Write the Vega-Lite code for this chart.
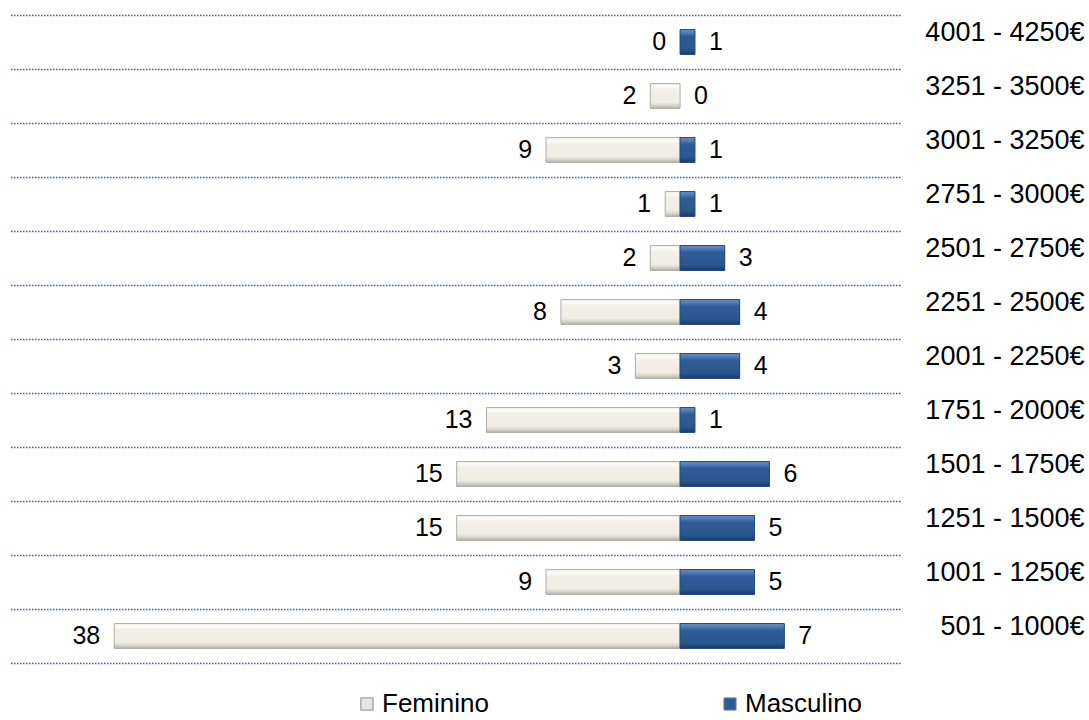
{
  "$schema": "https://vega.github.io/schema/vega-lite/v6.json",
  "width": 890,
  "height": 648,
  "autosize": {"type": "none"},
  "padding": {"left": 10, "top": 15, "right": 189, "bottom": 57},
  "background": "white",
  "config": {
    "view": {"stroke": null},
    "font": "Liberation Sans",
    "text": {"font": "Liberation Sans"}
  },
  "data": {
    "values": [
      {"band": "4001 - 4250€", "sexo": "Feminino", "n": 0},
      {"band": "4001 - 4250€", "sexo": "Masculino", "n": 1},
      {"band": "3251 - 3500€", "sexo": "Feminino", "n": 2},
      {"band": "3251 - 3500€", "sexo": "Masculino", "n": 0},
      {"band": "3001 - 3250€", "sexo": "Feminino", "n": 9},
      {"band": "3001 - 3250€", "sexo": "Masculino", "n": 1},
      {"band": "2751 - 3000€", "sexo": "Feminino", "n": 1},
      {"band": "2751 - 3000€", "sexo": "Masculino", "n": 1},
      {"band": "2501 - 2750€", "sexo": "Feminino", "n": 2},
      {"band": "2501 - 2750€", "sexo": "Masculino", "n": 3},
      {"band": "2251 - 2500€", "sexo": "Feminino", "n": 8},
      {"band": "2251 - 2500€", "sexo": "Masculino", "n": 4},
      {"band": "2001 - 2250€", "sexo": "Feminino", "n": 3},
      {"band": "2001 - 2250€", "sexo": "Masculino", "n": 4},
      {"band": "1751 - 2000€", "sexo": "Feminino", "n": 13},
      {"band": "1751 - 2000€", "sexo": "Masculino", "n": 1},
      {"band": "1501 - 1750€", "sexo": "Feminino", "n": 15},
      {"band": "1501 - 1750€", "sexo": "Masculino", "n": 6},
      {"band": "1251 - 1500€", "sexo": "Feminino", "n": 15},
      {"band": "1251 - 1500€", "sexo": "Masculino", "n": 5},
      {"band": "1001 - 1250€", "sexo": "Feminino", "n": 9},
      {"band": "1001 - 1250€", "sexo": "Masculino", "n": 5},
      {"band": "501 - 1000€", "sexo": "Feminino", "n": 38},
      {"band": "501 - 1000€", "sexo": "Masculino", "n": 7}
    ]
  },
  "transform": [
    {"calculate": "datum.sexo === 'Feminino' ? -datum.n : datum.n", "as": "signed"}
  ],
  "encoding": {
    "y": {
      "field": "band",
      "type": "nominal",
      "sort": null,
      "scale": {"paddingInner": 0, "paddingOuter": 0},
      "axis": {
        "orient": "right",
        "title": null,
        "domain": false,
        "ticks": false,
        "tickSize": 0,
        "tickBand": "extent",
        "grid": true,
        "gridColor": "#34609f",
        "gridDash": [1.5, 1.5],
        "gridWidth": 1.5,
        "labelAlign": "right",
        "labelBaseline": "middle",
        "labelPadding": 184,
        "labelOffset": -10,
        "labelFontSize": 27,
        "labelColor": "#000000",
        "labelFont": "Liberation Sans"
      }
    }
  },
  "layer": [
    {
      "transform": [{"filter": "datum.n > 0"}],
      "mark": {"type": "bar", "height": {"band": 0.46}},
      "encoding": {
        "x": {
          "field": "signed",
          "type": "quantitative",
          "scale": {"domain": [-45, 14.77], "nice": false, "zero": false},
          "axis": null
        },
        "x2": {"datum": 0},
        "color": {
          "field": "sexo",
          "type": "nominal",
          "scale": {"domain": ["Feminino", "Masculino"], "range": ["#e6e4dc", "#2c5a95"]},
          "legend": {
            "title": null,
            "orient": "none",
            "direction": "horizontal",
            "legendX": 344,
            "legendY": 676,
            "symbolType": "square",
            "symbolSize": 150,
            "symbolStrokeColor": "#8c8c8c",
            "symbolStrokeWidth": 1,
            "symbolOpacity": 1,
            "labelFontSize": 26,
            "labelFont": "Liberation Sans",
            "labelColor": "#000000",
            "labelOffset": 2,
            "columnPadding": 228,
            "padding": 0
          }
        }
      }
    },
    {
      "transform": [{"filter": "datum.n > 0"}],
      "mark": {"type": "bar", "height": {"band": 0.46}, "strokeWidth": 1},
      "encoding": {
        "x": {"field": "signed", "type": "quantitative"},
        "x2": {"datum": 0},
        "fill": {
          "condition": {
            "test": "datum.sexo === 'Feminino'",
            "value": {
              "gradient": "linear", "x1": 0, "y1": 0, "x2": 0, "y2": 1,
              "stops": [
                {"offset": 0, "color": "#f6f5ef"},
                {"offset": 0.14, "color": "#fcfbf7"},
                {"offset": 0.22, "color": "#f2f0e8"},
                {"offset": 0.76, "color": "#eeece3"},
                {"offset": 0.88, "color": "#d6d4cb"},
                {"offset": 1, "color": "#b3b1a9"}
              ]
            }
          },
          "value": {
            "gradient": "linear", "x1": 0, "y1": 0, "x2": 0, "y2": 1,
            "stops": [
              {"offset": 0, "color": "#6a92c8"},
              {"offset": 0.16, "color": "#4876b2"},
              {"offset": 0.26, "color": "#2f5d9a"},
              {"offset": 0.78, "color": "#2b578f"},
              {"offset": 0.9, "color": "#22487a"},
              {"offset": 1, "color": "#1a3961"}
            ]
          }
        },
        "stroke": {
          "condition": {"test": "datum.sexo === 'Feminino'", "value": "#aeaca4"},
          "value": "#24497a"
        }
      }
    },
    {
      "transform": [{"filter": "datum.sexo === 'Feminino'"}],
      "mark": {"type": "text", "align": "right", "baseline": "middle", "dx": -14, "fontSize": 25, "font": "Liberation Sans", "color": "#000000"},
      "encoding": {
        "x": {"field": "signed", "type": "quantitative"},
        "text": {"field": "n", "type": "quantitative"}
      }
    },
    {
      "transform": [{"filter": "datum.sexo === 'Masculino'"}],
      "mark": {"type": "text", "align": "left", "baseline": "middle", "dx": 14, "fontSize": 25, "font": "Liberation Sans", "color": "#000000"},
      "encoding": {
        "x": {"field": "signed", "type": "quantitative"},
        "text": {"field": "n", "type": "quantitative"}
      }
    }
  ]
}
